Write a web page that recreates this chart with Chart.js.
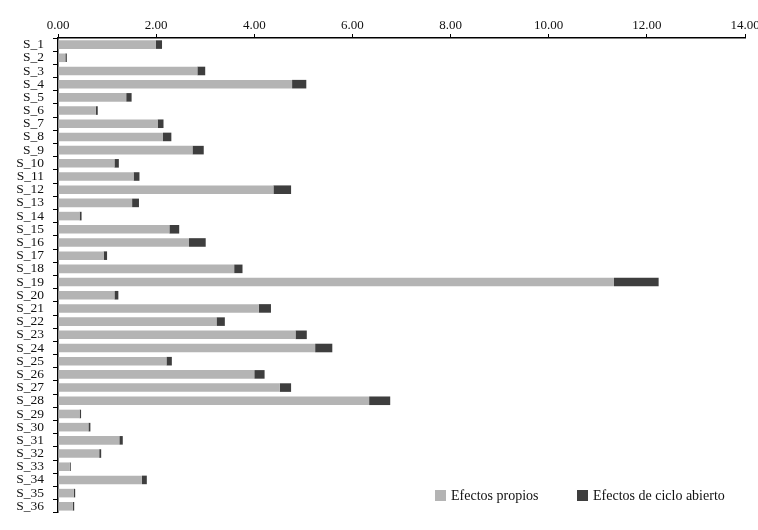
<!DOCTYPE html>
<html>
<head>
<meta charset="utf-8">
<script src="https://cdn.jsdelivr.net/npm/chart.js@4/dist/chart.umd.min.js"></script>
<style>
html,body{margin:0;padding:0;background:#fff;}
#wrap{width:758px;height:530px;position:relative;}
</style>
</head>
<body>
<div id="wrap"><canvas id="c" width="758" height="530"></canvas></div>
<script>
const categories = ["S_1","S_2","S_3","S_4","S_5","S_6","S_7","S_8","S_9","S_10","S_11","S_12","S_13","S_14","S_15","S_16","S_17","S_18","S_19","S_20","S_21","S_22","S_23","S_24","S_25","S_26","S_27","S_28","S_29","S_30","S_31","S_32","S_33","S_34","S_35","S_36"];
const efectosPropios = [1.99,0.15,2.84,4.77,1.39,0.77,2.03,2.14,2.74,1.15,1.54,4.39,1.51,0.44,2.27,2.67,0.93,3.59,11.33,1.15,4.09,3.23,4.84,5.24,2.21,4.00,4.52,6.34,0.44,0.62,1.25,0.84,0.24,1.71,0.32,0.30];
const efectosCicloAbierto = [0.13,0.03,0.16,0.29,0.11,0.04,0.12,0.17,0.23,0.09,0.12,0.36,0.14,0.04,0.20,0.34,0.07,0.17,0.91,0.08,0.25,0.17,0.23,0.35,0.11,0.21,0.23,0.43,0.03,0.04,0.07,0.04,0.02,0.10,0.03,0.03];
const seriesNames = ["Efectos propios","Efectos de ciclo abierto"];
const xMin = 0, xMax = 14, xStep = 2;

const FONT = "'Liberation Serif', 'DejaVu Serif', serif";
const TXT = "#111111";

const legendPlugin = {
  id: 'customLegend',
  afterDraw(chart) {
    const ctx = chart.ctx;
    const items = [{x:435, textX:451}, {x:577, textX:593}];
    ctx.save();
    ctx.font = "14px " + FONT;
    ctx.textBaseline = "middle";
    ctx.textAlign = "left";
    chart.data.datasets.forEach((ds, i) => {
      const it = items[i];
      ctx.fillStyle = ds.backgroundColor;
      ctx.fillRect(it.x, 490, 11, 11);
      ctx.fillStyle = TXT;
      ctx.fillText(ds.label, it.textX, 496);
    });
    ctx.restore();
  }
};

new Chart(document.getElementById('c'), {
  type: 'bar',
  data: {
    labels: categories,
    datasets: [
      {label: seriesNames[0], data: efectosPropios, backgroundColor: '#b4b4b4', borderWidth: 0, barPercentage: 0.65, categoryPercentage: 1.0},
      {label: seriesNames[1], data: efectosCicloAbierto, backgroundColor: '#3e3e3e', borderWidth: 0, barPercentage: 0.65, categoryPercentage: 1.0}
    ]
  },
  options: {
    indexAxis: 'y',
    responsive: false,
    animation: false,
    devicePixelRatio: 1,
    layout: {padding: {left: 0, right: 13, top: 0, bottom: 16}},
    plugins: {legend: {display: false}, tooltip: {enabled: false}},
    scales: {
      x: {
        position: 'top',
        stacked: true,
        min: xMin, max: xMax,
        ticks: {stepSize: xStep, color: TXT, font: {family: FONT, size: 13}, padding: 1, maxRotation: 0,
          callback: v => Number(v).toFixed(2)},
        grid: {drawOnChartArea: false, drawTicks: true, tickLength: 4, color: '#000', lineWidth: 1},
        border: {display: true, color: '#000', width: 1.5},
        afterFit(scale) { scale.height = 38; scale.paddingRight = 13; scale.paddingLeft = 0; }
      },
      y: {
        stacked: true,
        ticks: {color: TXT, font: {family: FONT, size: 13.5}, padding: 9, autoSkip: false},
        grid: {drawOnChartArea: false, drawTicks: true, tickLength: 5, color: '#000', lineWidth: 1, offset: true},
        border: {display: true, color: '#000', width: 1.5},
        afterFit(scale) { scale.width = 58; }
      }
    }
  },
  plugins: [legendPlugin]
});
</script>
</body>
</html>
